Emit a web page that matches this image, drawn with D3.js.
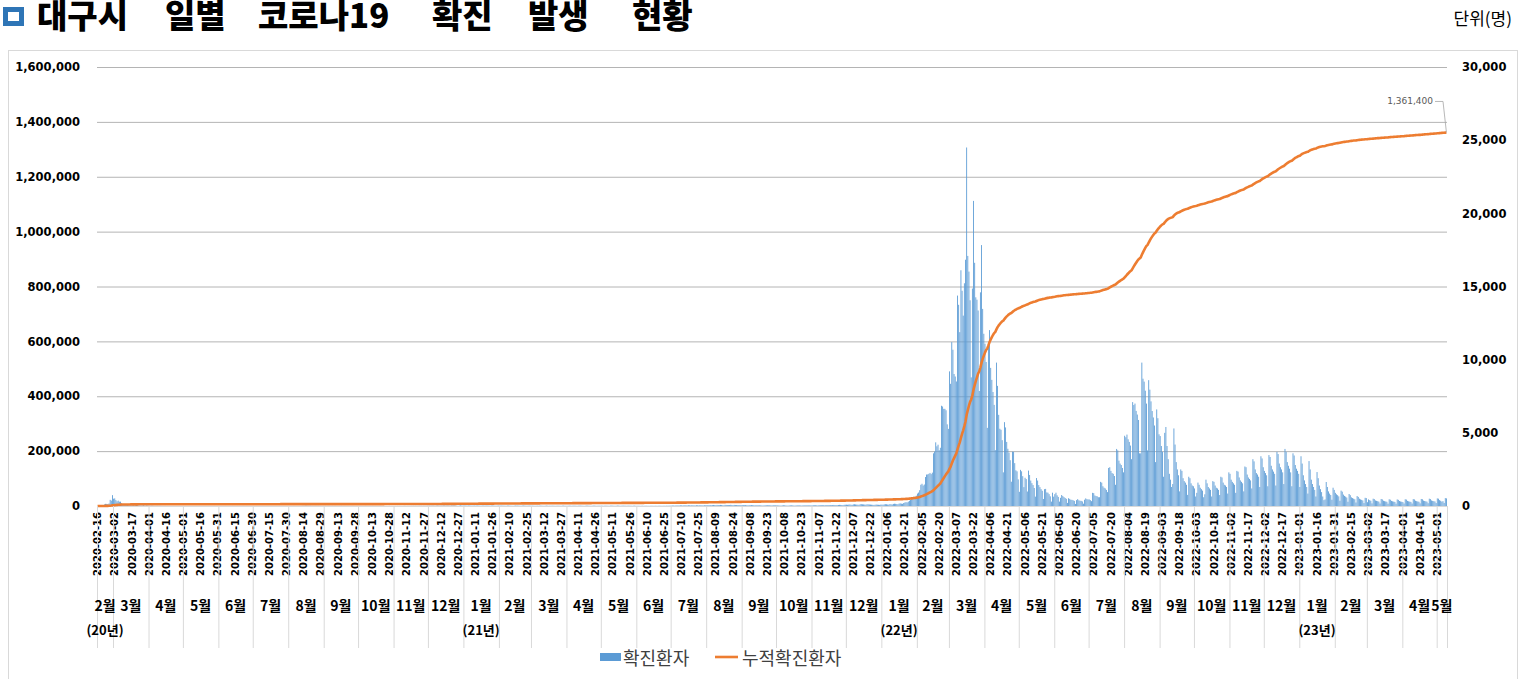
<!DOCTYPE html>
<html><head><meta charset="utf-8">
<script src="https://cdn.jsdelivr.net/npm/d3@7"></script>
<style>
body{margin:0;background:#fff;}
svg{display:block;}
</style></head><body>
<svg id="chart" width="1525" height="679"></svg>
<script>
// Daily confirmed cases in Daegu, starting 2020-02-16 (one value per day)
const startDate = "2020-02-16";
const cases2020 = [
  0,0,1,10,23,45,110,148,144,133,170,422,370,741,
  500,520,405,320,367,297,297,190,92,131,73,61,62,41,35,46,32,97,34,49,64,51,42,38,27,33,48,23,21,44,31,
  20,13,18,16,12,8,8,14,9,8,7,5,4,3,5,1,2,1,0,1,1,2,0,1,0,1,0,2,0,1,
  1,0,2,0,1,0,1,0,2,1,0,3,1,0,2,1,0,1,0,2,1,0,2,1,0,1,0,3,1,0,2,
  1,0,2,1,0,1,3,0,1,0,2,1,4,2,1,0,3,1,2,1,0,5,2,1,3,2,1,0,2,1,
  2,1,0,3,1,2,0,1,2,1,0,1,3,2,1,0,2,1,0,1,2,1,0,3,1,2,1,0,2,1,0,
  1,2,0,1,3,2,1,0,2,1,3,5,8,10,12,25,14,13,9,11,7,8,6,10,8,5,7,4,6,3,5,
  4,6,3,5,7,4,3,6,2,4,5,3,2,4,3,6,2,3,5,2,4,3,1,2,3,4,2,1,3,2,
  2,1,3,2,1,2,4,3,2,1,3,2,5,3,2,4,1,2,3,5,2,1,3,6,4,2,3,5,2,4,3,
  3,4,2,5,3,6,4,3,5,8,6,4,7,5,9,11,8,12,10,14,9,12,15,11,13,10,16,12,14,18,
  15,20,18,22,25,17,14,21,28,24,19,26,23,30,27,22,29,33,25,20,31,27,35,38,24,21,18,26,40,32,28
];
const cases2021 = [
  40,35,28,22,30,33,27,25,29,31,20,26,34,28,24,22,30,25,21,27,33,29,24,20,26,31,28,22,19,25,30,
  22,25,31,27,24,20,18,26,29,23,21,17,15,22,28,25,31,24,20,18,27,30,26,23,19,25,28,22,
  18,24,21,16,19,23,15,20,26,22,17,14,21,25,19,16,22,18,24,20,15,13,19,23,21,17,14,22,26,20,18,
  16,21,25,19,14,22,27,24,18,15,20,23,28,21,17,13,19,24,26,22,18,14,20,25,23,19,16,21,24,20,
  22,18,15,24,26,21,17,14,23,27,25,19,16,22,28,24,20,17,25,29,23,18,15,21,26,22,19,14,20,24,18,
  15,19,17,12,14,18,11,16,20,14,13,10,15,18,16,12,19,14,11,17,21,15,13,18,16,12,22,19,24,26,
  28,33,30,25,36,41,38,35,44,40,32,47,52,45,39,50,43,37,55,48,42,36,51,46,40,58,53,45,39,49,44,
  52,61,58,66,49,55,70,63,57,74,68,59,72,65,53,48,77,71,62,58,66,80,69,56,73,67,61,55,64,70,59,
  62,57,51,66,54,48,60,55,63,50,47,44,58,52,49,45,38,36,33,41,47,53,49,44,52,46,40,55,50,43,
  38,45,41,34,30,42,48,44,36,32,28,39,46,43,37,33,29,40,47,42,38,35,31,44,50,46,41,37,43,49,45,
  42,55,51,48,44,39,57,63,58,52,47,43,60,68,64,59,54,49,66,72,67,61,56,70,78,74,68,63,80,88,
  92,85,96,103,88,79,110,118,105,97,91,84,120,126,114,108,99,93,118,112,104,96,89,82,74,86,98,91,85,79,94
];
const cases2022 = [
  95,88,110,125,118,102,97,131,115,104,142,156,148,133,121,165,178,160,149,203,235,262,244,296,358,430,488,560,640,610,705,
  850,920,1080,1450,1520,1400,1470,1980,2150,2160,2200,2260,2180,2280,3600,3720,4350,4080,4190,3810,3980,6850,6800,6640,6640,6540,5580,5270,
  9200,8350,11200,10680,9020,8850,8510,14380,13750,11880,16110,14710,13010,15220,16830,24500,17090,16020,14060,8790,14860,
  20850,16620,14260,14100,13360,7860,14600,17830,13470,11770,
  11090,9840,5340,11180,12020,9440,8620,7790,6910,3820,9800,8210,6230,5280,
  5210,4500,2300,5730,5370,4380,3910,3650,3130,1660,3710,3700,2930,2440,2370,1820,
  970,2470,2370,2040,1290,1930,1840,990,2420,2120,1740,1560,1430,1230,640,1910,1740,1430,1290,1150,1040,
  480,1150,1170,930,910,810,660,300,910,640,
  810,910,730,620,300,560,750,680,610,550,490,210,530,490,430,420,390,350,140,400,470,
  390,360,350,310,160,430,520,470,450,
  450,400,330,900,880,720,680,660,600,600,1650,1600,1350,1250,1200,1100,950,2600,2650,2400,2250,2200,2050,
  1450,3900,3800,3100,2900,2800,2600,2300,
  4800,4700,4880,4560,4380,4130,3200,7100,6900,7000,6500,6250,5880,3600,3600,9800,8700,8500,7880,7000,
  3800,8600,7950,7150,6490,6050,5500,3000,6600,6000,4900,
  4780,4100,3700,2000,5000,5400,4100,3200,2200,1800,1300,1500,5300,4200,3000,2500,2100,
  1000,2500,2400,1900,1700,1600,1450,760,2000,1900,1550,1400,1350,
  1200,650,900,1600,1450,1250,1150,1050,600,800,1800,1550,1300,1200,1100,650,1700,1650,1400,1250,1200,1100,
  750,2000,1950,1600,1450,1400,1300,850,2300,
  2200,1800,1650,1550,1450,900,2400,2350,1950,1750,1650,1550,1000,2700,2650,2150,1950,1850,1750,
  1200,3200,3050,2500,2250,2150,2000,1300,3400,3250,2650,
  2400,2250,2100,1350,3480,3350,2750,2500,2350,2200,1400,3700,3550,2900,2650,2500,2300,
  1500,3900,3700,3000,2750,2550,2300,1350,3600,3450,2800,2550,2400,2200
];
const cases2023 = [
  1300,3400,2900,2100,1750,1500,1300,850,3070,2500,1800,1500,1300,1100,650,
  2320,1900,1400,1150,950,650,400,450,1640,1300,1000,850,750,430,1250,1100,
  900,800,740,660,360,1050,980,780,690,640,580,290,820,740,590,540,500,460,240,680,620,500,450,420,380,200,560,540,
  260,450,400,360,180,500,470,380,350,330,300,170,480,450,360,330,310,290,160,460,430,350,320,300,280,160,450,420,340,310,290,
  270,170,460,440,350,320,300,280,170,470,450,360,330,310,290,180,480,460,370,340,320,300,190,500,470,380,350,330,310,200,
  520,500,400,360,300,330,210,540,520
];
const leftTicks = [0, 200000, 400000, 600000, 800000, 1000000, 1200000, 1400000, 1600000];
const rightTicks = [0, 5000, 10000, 15000, 20000, 25000, 30000];
const seriesNames = ["확진환자", "누적확진환자"];
const titleWords = ["대구시", "일별", "코로나19", "확진", "발생", "현황"];
const unitLabel = "단위(명)";

const daily = [].concat(cases2020, cases2021, cases2022, cases2023);
const cumulative = Array.from(d3.cumsum(daily));
const day0 = d3.utcParse("%Y-%m-%d")(startDate);
const dates = daily.map((_, i) => d3.utcDay.offset(day0, i));

const BLUE = "#5b9bd5", ORANGE = "#ed7d31";
const plot = {left: 97, right: 1447, top: 67, bottom: 506};
const svg = d3.select("#chart");
const latin = "'DejaVu Sans', sans-serif";
const korean = "'Noto Sans CJK KR', 'DejaVu Sans', sans-serif";

const pad = 0.24;
const x = d3.scaleBand().domain(d3.range(daily.length))
  .range([plot.left, plot.right]).paddingInner(pad).paddingOuter(pad / 2);
const edge = i => x(i) - x.step() * pad / 2;      // left edge of a day's slot
const mid = i => x(i) + x.bandwidth() / 2;
const yL = d3.scaleLinear().domain([0, 1600000]).range([plot.bottom, plot.top]);
const yR = d3.scaleLinear().domain([0, 30000]).range([plot.bottom, plot.top]);
const fmt = d3.format(",");

// outer chart frame
svg.append("rect").attr("x", 8.5).attr("y", 50.5).attr("width", 1509).attr("height", 640)
  .attr("fill", "none").attr("stroke", "#d9d9d9");

// title
svg.append("rect").attr("x", 5.5).attr("y", 9.5).attr("width", 16).attr("height", 14)
  .attr("fill", "#fff").attr("stroke", "#2e75b6").attr("stroke-width", 5);
const titleX = [37, 165, 258, 432, 528, 632];
const title = svg.append("text").attr("y", 28).attr("font-family", korean)
  .attr("font-size", 33).attr("font-weight", 900).attr("fill", "#000");
titleWords.forEach((w, i) => title.append("tspan").attr("x", titleX[i]).text(w));
svg.append("text").attr("x", 1512).attr("y", 25).attr("text-anchor", "end")
  .attr("font-family", korean).attr("font-size", 17).attr("fill", "#000").text(unitLabel);

// horizontal gridlines (left axis)
svg.append("g").attr("transform", `translate(${plot.left},0)`)
  .call(d3.axisLeft(yL).tickValues(leftTicks).tickSize(-(plot.right - plot.left)).tickFormat(""))
  .call(g => g.select(".domain").remove())
  .call(g => g.selectAll("line").attr("stroke", "#b4b4b4"));

// left axis labels
svg.append("g").attr("transform", `translate(${plot.left},0)`)
  .call(d3.axisLeft(yL).tickValues(leftTicks).tickSize(0).tickPadding(17).tickFormat(fmt))
  .call(g => g.select(".domain").remove())
  .call(g => g.selectAll("text").attr("font-family", latin).attr("font-size", 11.5)
    .attr("font-weight", 700).attr("fill", "#000"));

// right axis labels
svg.append("g").attr("transform", `translate(${plot.right},0)`)
  .call(d3.axisRight(yR).tickValues(rightTicks).tickSize(0).tickPadding(15).tickFormat(fmt))
  .call(g => g.select(".domain").remove())
  .call(g => g.selectAll("text").attr("font-family", latin).attr("font-size", 11.5)
    .attr("font-weight", 700).attr("fill", "#000"));

// daily bars (right axis)
svg.append("g").selectAll("rect").data(daily).join("rect")
  .attr("x", (d, i) => x(i)).attr("width", x.bandwidth())
  .attr("y", d => yR(d)).attr("height", d => yR(0) - yR(d))
  .attr("fill", BLUE);

// x axis baseline
svg.append("line").attr("x1", plot.left).attr("x2", plot.right)
  .attr("y1", plot.bottom + 0.5).attr("y2", plot.bottom + 0.5).attr("stroke", "#d9d9d9");

// cumulative line (left axis)
svg.append("path").datum(cumulative)
  .attr("fill", "none").attr("stroke", ORANGE).attr("stroke-width", 2.6)
  .attr("stroke-linejoin", "round")
  .attr("d", d3.line().x((d, i) => mid(i)).y(d => yL(d)));

// end value callout
const last = daily.length - 1;
const endY = yL(cumulative[last]);
svg.append("path").attr("fill", "none").attr("stroke", "#a6a6a6").attr("stroke-width", 0.8)
  .attr("d", `M${plot.right - 12},${endY - 31}L${plot.right - 4},${endY - 31}L${mid(last)},${endY}`);
svg.append("text").attr("x", plot.right - 14).attr("y", endY - 28).attr("text-anchor", "end")
  .attr("font-family", latin).attr("font-size", 9).attr("fill", "#595959")
  .text(fmt(cumulative[last]));

// date tick labels every 15 days
const fmtDate = d3.utcFormat("%Y-%m-%d");
svg.append("g").selectAll("text").data(d3.range(0, daily.length, 15)).join("text")
  .attr("transform", i => `translate(${mid(i) + 3.6},${plot.bottom + 6}) rotate(-90)`)
  .attr("text-anchor", "end").attr("font-family", latin).attr("font-size", 10)
  .attr("font-weight", 700).attr("fill", "#000")
  .text(i => fmtDate(dates[i]));

// month groups and year groups
const months = [];
dates.forEach((d, i) => {
  const key = d.getUTCFullYear() * 12 + d.getUTCMonth();
  if (!months.length || months[months.length - 1].key !== key)
    months.push({key, start: i, end: i, month: d.getUTCMonth() + 1, year: d.getUTCFullYear()});
  else months[months.length - 1].end = i;
});
const sepG = svg.append("g").attr("stroke", "#d9d9d9");
months.forEach(mo => {
  sepG.append("line").attr("x1", edge(mo.start) + 0.5).attr("x2", edge(mo.start) + 0.5)
    .attr("y1", plot.bottom).attr("y2", 648);
});
sepG.append("line").attr("x1", plot.right + 0.5).attr("x2", plot.right + 0.5)
  .attr("y1", plot.bottom).attr("y2", 648);
const monthMid = mo => (edge(mo.start) + edge(mo.end) + x.step()) / 2;
svg.append("g").selectAll("text").data(months).join("text")
  .attr("x", monthMid).attr("y", 611).attr("text-anchor", "middle")
  .attr("font-family", korean).attr("font-size", 14).attr("font-weight", 700).attr("fill", "#000")
  .text(mo => `${mo.month}월`);
const yearFirst = months.filter((mo, k) => k === 0 || mo.year !== months[k - 1].year);
svg.append("g").selectAll("text").data(yearFirst).join("text")
  .attr("x", monthMid).attr("y", 635).attr("text-anchor", "middle")
  .attr("font-family", korean).attr("font-size", 13).attr("font-weight", 700).attr("fill", "#000")
  .text(mo => `(${String(mo.year).slice(2)}년)`);

// legend
const lg = svg.append("g");
lg.append("rect").attr("x", 600).attr("y", 653).attr("width", 21).attr("height", 8).attr("fill", BLUE);
lg.append("text").attr("x", 623).attr("y", 665).attr("font-family", korean).attr("font-size", 18)
  .attr("fill", "#404040").text(seriesNames[0]);
lg.append("line").attr("x1", 715).attr("x2", 738).attr("y1", 657).attr("y2", 657)
  .attr("stroke", ORANGE).attr("stroke-width", 2.6);
lg.append("text").attr("x", 742).attr("y", 665).attr("font-family", korean).attr("font-size", 18)
  .attr("fill", "#404040").text(seriesNames[1]);
</script>
</body></html>
